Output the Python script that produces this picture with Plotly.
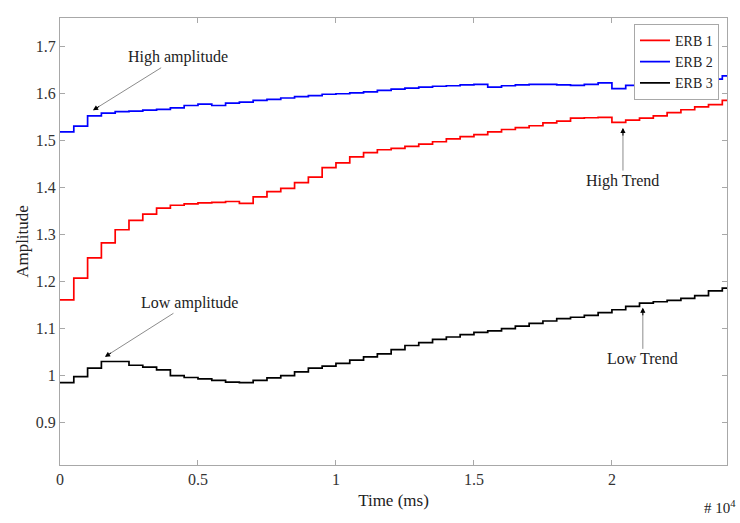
import plotly.graph_objects as go

# Time (ms)
time_ms = [0, 500, 1000, 1500, 2000, 2500, 3000, 3500, 4000, 4500,
           5000, 5500, 6000, 6500, 7000, 7500, 8000, 8500, 9000, 9500,
           10000, 10500, 11000, 11500, 12000, 12500, 13000, 13500, 14000, 14500,
           15000, 15500, 16000, 16500, 17000, 17500, 18000, 18500, 19000, 19500,
           20000, 20500, 21000, 21500, 22000, 22500, 23000, 23500, 24000, 24200]

erb1 = [1.161, 1.207, 1.250, 1.282, 1.310, 1.330, 1.343, 1.356, 1.362, 1.365,
        1.367, 1.368, 1.370, 1.366, 1.380, 1.391, 1.398, 1.410, 1.422, 1.442,
        1.452, 1.465, 1.474, 1.480, 1.483, 1.487, 1.492, 1.497, 1.503, 1.508,
        1.512, 1.518, 1.523, 1.527, 1.531, 1.537, 1.541, 1.547, 1.548, 1.549,
        1.538, 1.543, 1.547, 1.552, 1.559, 1.565, 1.571, 1.576, 1.585, 1.588]

erb2 = [1.518, 1.530, 1.552, 1.558, 1.561, 1.562, 1.564, 1.566, 1.569, 1.574,
        1.577, 1.574, 1.579, 1.581, 1.585, 1.587, 1.590, 1.593, 1.595, 1.598,
        1.599, 1.601, 1.603, 1.606, 1.609, 1.611, 1.613, 1.615, 1.616, 1.618,
        1.619, 1.613, 1.616, 1.618, 1.619, 1.619, 1.618, 1.617, 1.619, 1.622,
        1.610, 1.617, 1.621, 1.620, 1.622, 1.624, 1.627, 1.630, 1.637, 1.632]

erb3 = [0.985, 0.998, 1.016, 1.030, 1.030, 1.022, 1.018, 1.012, 1.000, 0.996,
        0.993, 0.990, 0.986, 0.985, 0.990, 0.995, 1.000, 1.008, 1.016, 1.020,
        1.026, 1.033, 1.040, 1.046, 1.055, 1.064, 1.070, 1.077, 1.082, 1.087,
        1.092, 1.095, 1.100, 1.105, 1.111, 1.116, 1.121, 1.124, 1.128, 1.134,
        1.140, 1.147, 1.154, 1.157, 1.160, 1.164, 1.170, 1.180, 1.186, 1.178]

series_names = ["ERB 1", "ERB 2", "ERB 3"]
series_colors = ["#ff0000", "#0000ff", "#000000"]

x_tick_vals = [0, 5000, 10000, 15000, 20000]
x_tick_text = ["0", "0.5", "1", "1.5", "2"]
y_tick_vals = [0.9, 1.0, 1.1, 1.2, 1.3, 1.4, 1.5, 1.6, 1.7]
y_tick_text = ["0.9", "1", "1.1", "1.2", "1.3", "1.4", "1.5", "1.6", "1.7"]

FONT = "Liberation Serif, Times New Roman, serif"

fig = go.Figure()
for name, ys, col in zip(series_names, [erb1, erb2, erb3], series_colors):
    fig.add_trace(go.Scatter(x=time_ms, y=ys, mode="lines", name=name,
                             line=dict(color=col, width=1.7, shape="hv")))

axis_common = dict(showline=True, linecolor="#a8a8a8", linewidth=1, mirror="ticks",
                   ticks="inside", ticklen=5, tickcolor="#a8a8a8", showgrid=False,
                   zeroline=False, tickfont=dict(family=FONT, size=16, color="#333333"))

fig.update_xaxes(range=[0, 24170], tickvals=x_tick_vals, ticktext=x_tick_text,
                 title=dict(text="Time (ms)", font=dict(family=FONT, size=17, color="#222222"),
                            standoff=6), **axis_common)
fig.update_yaxes(range=[0.81, 1.76], tickvals=y_tick_vals, ticktext=y_tick_text,
                 title=dict(text="Amplitude", font=dict(family=FONT, size=17, color="#222222"),
                            standoff=2), **axis_common)

ann_font = dict(family=FONT, size=16, color="#222222")
annos = [
    ("High amplitude", 1196, 1.564, 85, -53),
    ("Low amplitude", 1630, 1.040, 85, -54),
    ("High Trend", 20400, 1.526, 0, 53),
    ("Low Trend", 21120, 1.144, 0, 51),
]
for text, x, y, ax, ay in annos:
    fig.add_annotation(x=x, y=y, text=text, showarrow=True, ax=ax, ay=ay,
                       arrowhead=2, arrowsize=1, arrowwidth=1, arrowcolor="#8c8c8c",
                       font=ann_font)
    # black arrowhead overlay
    n = (ax ** 2 + ay ** 2) ** 0.5
    fig.add_annotation(x=x, y=y, text="", showarrow=True, ax=ax / n * 9, ay=ay / n * 9,
                       arrowhead=2, arrowsize=1, arrowwidth=1, arrowcolor="#000000")

fig.add_annotation(xref="paper", yref="paper", x=1.017, y=-0.07, xanchor="right", yanchor="top",
                   text="# 10<sup>4</sup>", showarrow=False,
                   font=dict(family=FONT, size=15, color="#222222"))

fig.update_layout(
    width=740, height=523,
    margin=dict(l=60, r=13, t=18, b=58),
    paper_bgcolor="white", plot_bgcolor="white",
    showlegend=True,
    legend=dict(x=0.988, y=0.987, xanchor="right", yanchor="top",
                bgcolor="white", bordercolor="#a8a8a8", borderwidth=1,
                font=dict(family=FONT, size=14, color="#222222"),
                tracegroupgap=0, itemwidth=30),
)

fig.write_html("out.html", config={"displayModeBar": False},
               post_script="document.body.style.margin='0';")
